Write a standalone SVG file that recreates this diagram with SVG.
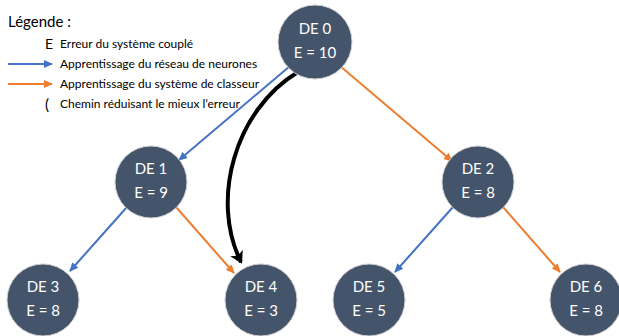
<svg xmlns="http://www.w3.org/2000/svg" width="619" height="336" viewBox="0 0 619 336">
<defs>
<marker id="ab" markerWidth="10" markerHeight="10" refX="8" refY="5" orient="auto" markerUnits="userSpaceOnUse"><path d="M0,1 L9,5 L0,9 Z" fill="#4472C4"/></marker>
<marker id="ao" markerWidth="10" markerHeight="10" refX="8" refY="5" orient="auto" markerUnits="userSpaceOnUse"><path d="M0,1 L9,5 L0,9 Z" fill="#ED7D31"/></marker>
<marker id="ak" markerWidth="14" markerHeight="14" refX="10" refY="7" orient="auto" markerUnits="userSpaceOnUse"><path d="M0,0 L12,7 L0,14 L3,7 Z" fill="#000"/></marker>
</defs>
<style>
.n{fill:#44546A;stroke:#D0D0D0;stroke-width:1}
.t{font-family:Lato,"Open Sans",sans-serif;font-size:15px;fill:#fff;text-anchor:middle}
.l{font-family:Lato,"Open Sans",sans-serif;font-size:12px;fill:#000}
.b{stroke:#4472C4;stroke-width:2;fill:none}
.o{stroke:#ED7D31;stroke-width:2;fill:none}
</style>
<rect width="619" height="336" fill="#fff"/>
<g id="legend">
<text x="8" y="27" class="l" style="font-size:15px">Légende :</text>
<text x="45" y="49" class="l" style="font-size:14px">E</text>
<text x="60" y="48" class="l">Erreur du système couplé</text>
<line x1="8" y1="64" x2="52" y2="64" class="b" marker-end="url(#ab)"/>
<text x="60" y="68" class="l">Apprentissage du réseau de neurones</text>
<line x1="8" y1="84" x2="52" y2="84" class="o" marker-end="url(#ao)"/>
<text x="60" y="88" class="l">Apprentissage du système de classeur</text>
<text x="45" y="110" class="l" style="font-size:15px">(</text>
<text x="60" y="108" class="l">Chemin réduisant le mieux l’erreur</text>
</g>
<g id="connectors">
<line x1="290" y1="66" x2="179" y2="160" class="b" marker-end="url(#ab)"/>
<line x1="340" y1="66" x2="452" y2="161" class="o" marker-end="url(#ao)"/>
<line x1="127" y1="207" x2="70" y2="271" class="b" marker-end="url(#ab)"/>
<line x1="176" y1="207" x2="234" y2="273" class="o" marker-end="url(#ao)"/>
<line x1="453" y1="207" x2="395" y2="272" class="b" marker-end="url(#ab)"/>
<line x1="503" y1="207" x2="560" y2="272" class="o" marker-end="url(#ao)"/>
<path d="M298,72 C235,110 210,200 241,262" stroke="#000" stroke-width="4" fill="none" marker-end="url(#ak)"/>
</g>
<g id="de0"><circle cx="315" cy="42" r="37" class="n"/><text x="315" y="34" class="t">DE 0</text><text x="315" y="58" class="t">E = 10</text></g>
<g id="de1"><circle cx="151" cy="182" r="36" class="n"/><text x="151" y="174" class="t">DE 1</text><text x="151" y="198" class="t">E = 9</text></g>
<g id="de2"><circle cx="478" cy="182" r="36" class="n"/><text x="478" y="174" class="t">DE 2</text><text x="478" y="198" class="t">E = 8</text></g>
<g id="de3"><circle cx="43" cy="300" r="36" class="n"/><text x="43" y="292" class="t">DE 3</text><text x="43" y="316" class="t">E = 8</text></g>
<g id="de4"><circle cx="261" cy="300" r="36" class="n"/><text x="261" y="292" class="t">DE 4</text><text x="261" y="316" class="t">E = 3</text></g>
<g id="de5"><circle cx="369" cy="300" r="36" class="n"/><text x="369" y="292" class="t">DE 5</text><text x="369" y="316" class="t">E = 5</text></g>
<g id="de6"><circle cx="586" cy="300" r="36" class="n"/><text x="586" y="292" class="t">DE 6</text><text x="586" y="316" class="t">E = 8</text></g>
</svg>
